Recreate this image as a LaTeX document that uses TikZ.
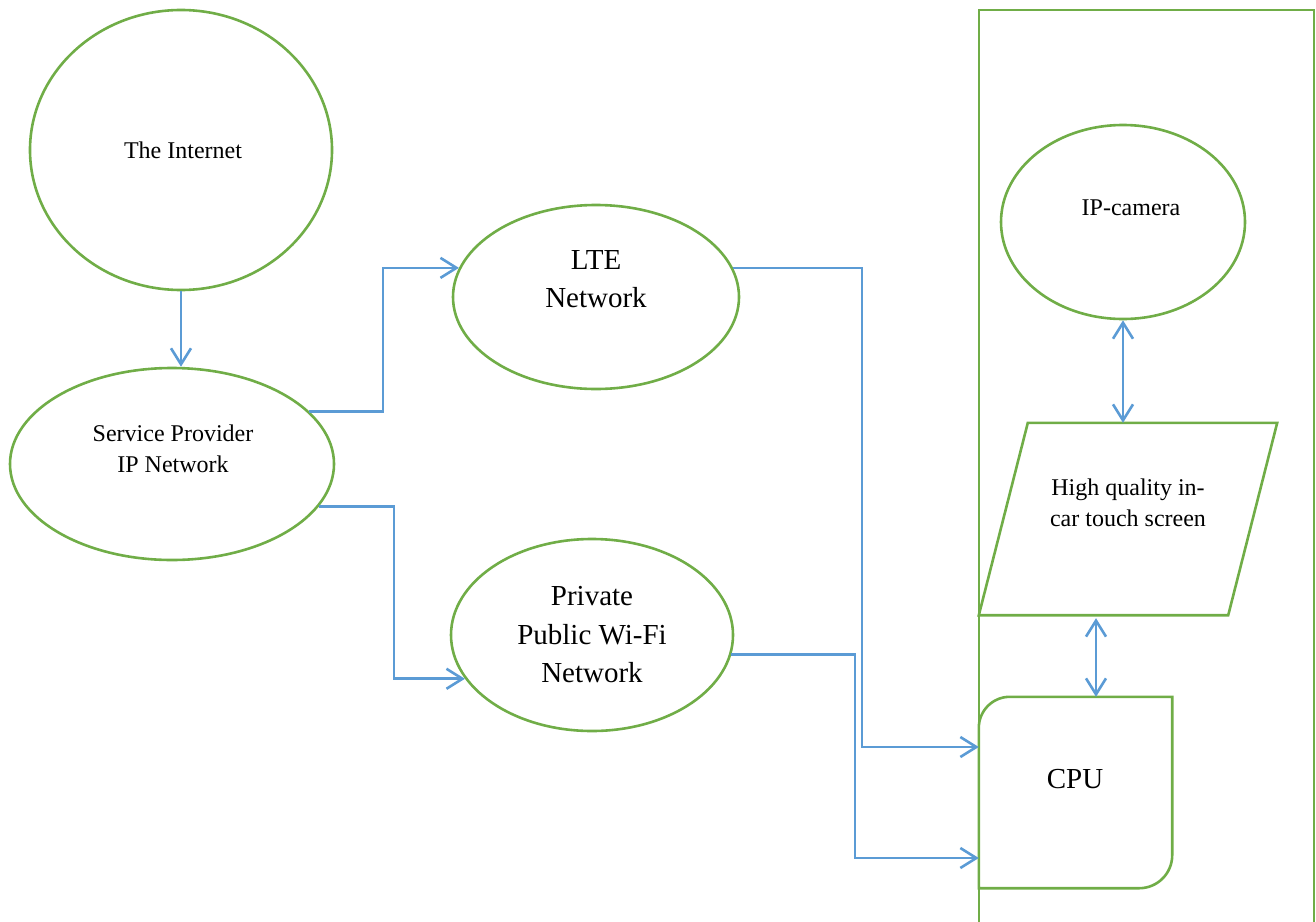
\documentclass[tikz,border=0pt]{standalone}
\usepackage{fontspec}
\setmainfont{Liberation Serif}
\usetikzlibrary{shapes.geometric,arrows.meta}
\definecolor{gr}{HTML}{70AD47}
\definecolor{bl}{HTML}{5B9BD5}
\tikzset{
  gline/.style={draw=gr, line width=2.6pt},
  ell/.style={ellipse, gline, inner sep=0pt},
  small/.style={font=\fontsize{24}{31}\selectfont, align=center, inner sep=0pt},
  big/.style={font=\fontsize{29}{38.5}\selectfont, align=center, inner sep=0pt},
  arr/.style={draw=bl, line width=2.6pt, -{Straight Barb[length=16pt,width=20pt]}},
  darr/.style={draw=bl, line width=2.6pt, {Straight Barb[length=16pt,width=20pt]}-{Straight Barb[length=16pt,width=20pt]}}
}
\begin{document}
\begin{tikzpicture}[x=1pt,y=-1pt]
\useasboundingbox (0,0) rectangle (1316,921);
% outer frame (car)
\draw[gline] (979,925) -- (979,10) -- (1314,10) -- (1314,925);
% ellipses
\node[ell, minimum width=302pt, minimum height=280pt] (inet) at (181,150) {};
\node[small] (inetT) at (183,150) {The Internet};
\node[ell, minimum width=324pt, minimum height=192pt] (sp) at (172,464) {};
\node[small] (spT) at (173,449) {Service Provider\\IP Network};
\node[ell, minimum width=286pt, minimum height=184pt] (lte) at (596,297) {};
\node[big] (lteT) at (596,279) {LTE\\Network};
\node[ell, minimum width=282pt, minimum height=192pt] (wifi) at (592,635) {};
\node[big] (wifiT) at (592,635) {Private\\Public Wi-Fi\\Network};
\node[ell, minimum width=244pt, minimum height=194pt] (cam) at (1123,222) {};
\node[small] (camT) at (1131,208) {IP-camera};
% touch screen (parallelogram)
\node[minimum width=249pt, minimum height=192pt, inner sep=0pt] (scr) at (1128,519) {};
\draw[gline] ([xshift=-24.5pt]scr.south west) -- ([xshift=24.5pt]scr.north west)
  -- ([xshift=24.5pt]scr.north east) -- ([xshift=-24.5pt]scr.south east) -- cycle;
\node[small] (scrT) at (1128,503) {High quality in-\\car touch screen};
% CPU
\node[minimum width=193pt, minimum height=191pt, inner sep=0pt] (cpu) at (1075.5,792.5) {};
\draw[gline] (cpu.south west) -- ([yshift=-31pt]cpu.north west) arc[start angle=180, end angle=90, radius=31pt]
  -- (cpu.north east) -- ([yshift=33pt]cpu.south east) arc[start angle=0, end angle=-90, radius=33pt] -- cycle;
\node[big] (cpuT) at (1075,779) {CPU};
% connectors
\draw[arr] (inet.south) -- (inet.south |- sp.north);
\draw[arr] (sp.21) -| (383,300) |- (lte.168);
\draw[arr] (sp.-16) -| (394,600) |- (wifi.199);
\draw[arr] (lte.12) -| (862,500) |- ([yshift=45.5pt]cpu.west);
\draw[arr] (wifi.-8) -| (855,700) |- ([yshift=-65.5pt]cpu.west);
\draw[darr] (cam.south) -- (cam.south |- scr.north);
\draw[darr, shorten >=3pt] ([xshift=20.5pt]cpu.north) -- ([xshift=20.5pt]cpu.north |- scr.south);
\end{tikzpicture}
\end{document}
